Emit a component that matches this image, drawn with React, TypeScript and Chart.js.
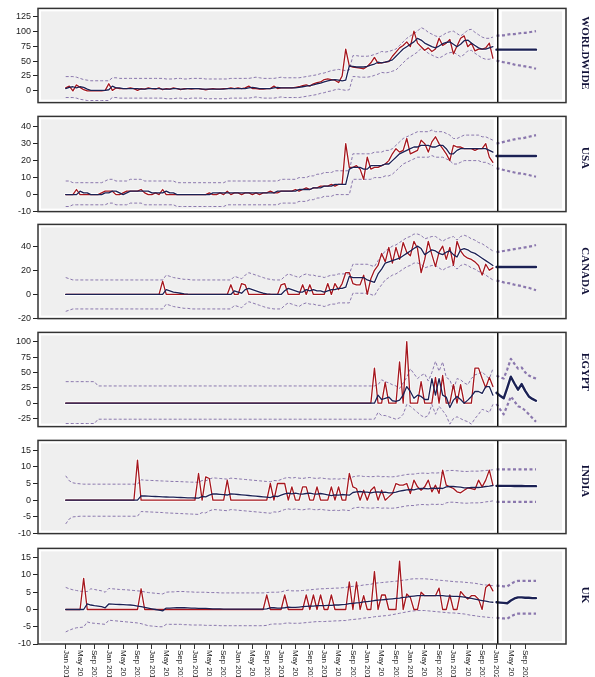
import React, { useEffect, useRef } from 'react';
import { Chart, registerables } from 'chart.js';

Chart.register(...registerables);

// ---------- axis / layout constants ----------
const X_MIN = -7.72;
const X_MAX = 139.36;
const SPLIT = 120.35;
const FC_START = 120;

const tickMonthNames = ['Jan', 'May', 'Sep'];
const tickMonthOffsets = [0, 4, 8];
const tickYears = [2010, 2011, 2012, 2013, 2014, 2015, 2016, 2017, 2018, 2019, 2020];

// ---------- WORLDWIDE ----------
const wwTicks = [0, 25, 50, 75, 100, 125];
const wwObs = [
  5, 8, 0, 10, 6, 2, 0, 0, 0, 0, 0, 1,
  12, 1, 5, 4, 4, 4, 5, 4, 1, 4, 3, 5,
  4, 3, 5, 2, 4, 3, 5, 4, 2, 4, 4, 3,
  4, 4, 3, 2, 3, 4, 3, 3, 4, 4, 5, 4,
  5, 4, 5, 8, 4, 4, 3, 3, 4, 4, 8, 4,
  5, 5, 5, 5, 6, 7, 9, 10, 8, 12, 14, 15,
  19, 20, 19, 18, 14, 25, 70, 42, 40, 39, 38, 37,
  41, 47, 56, 46, 47, 48, 49, 58, 65, 72, 76, 82,
  74, 100, 80, 74, 68, 72, 66, 70, 88, 76, 80, 86,
  62, 75, 88, 92, 74, 80, 67, 70, 70, 72, 80, 55,
];
const wwFit = [
  4, 6, 7, 5, 7, 6, 3, 1, 1, 1, 1, 1,
  2, 8, 5, 5, 4, 4, 4, 4, 4, 3, 3, 4,
  4, 4, 4, 3, 3, 3, 4, 4, 3, 3, 4, 4,
  4, 4, 3, 3, 3, 3, 3, 3, 3, 4, 4, 4,
  4, 4, 4, 5, 6, 5, 4, 4, 4, 4, 5, 6,
  5, 5, 5, 5, 5, 6, 7, 8, 9, 10, 12, 13,
  15, 17, 18, 19, 18, 17, 18, 42, 41, 40, 40, 40,
  41, 43, 45, 48, 47, 48, 50, 52, 58, 64, 70, 74,
  78, 82, 88, 85, 80, 77, 74, 72, 75, 79, 81, 82,
  78, 74, 78, 84, 85, 80, 76, 72, 70, 70, 72, 74,
];
const wwUp = [
  24, 24, 24, 23, 21, 19, 18, 17, 17, 17, 17, 17,
  17, 22, 22, 21, 21, 21, 21, 21, 21, 21, 21, 21,
  21, 21, 21, 21, 20, 20, 20, 21, 21, 20, 20, 21,
  21, 21, 21, 20, 20, 20, 20, 20, 20, 20, 21, 21,
  21, 21, 21, 21, 22, 23, 22, 21, 21, 21, 21, 22,
  23, 22, 22, 22, 22, 22, 23, 24, 25, 26, 27, 29,
  30, 32, 34, 35, 36, 35, 34, 35, 59, 59, 58, 58,
  58, 59, 61, 63, 66, 65, 66, 68, 70, 76, 82, 88,
  92, 96, 100, 106, 103, 98, 95, 92, 90, 93, 97, 99,
  100, 96, 92, 96, 102, 103, 98, 94, 90, 88, 88, 90,
];
const wwLo = [
  -11, -11, -11, -12, -14, -15, -16, -16, -16, -16, -16, -16,
  -16, -11, -11, -12, -12, -12, -12, -12, -12, -12, -12, -12,
  -12, -12, -12, -12, -13, -13, -13, -12, -12, -13, -13, -12,
  -12, -12, -12, -13, -13, -13, -13, -13, -13, -13, -12, -12,
  -12, -12, -12, -12, -11, -10, -11, -12, -12, -12, -12, -11,
  -10, -11, -11, -11, -11, -11, -10, -9, -8, -7, -6, -4,
  -3, -1, 0, 2, 3, 2, 1, 2, 24, 24, 23, 23,
  23, 24, 26, 28, 31, 30, 31, 33, 35, 41, 47, 53,
  57, 61, 65, 71, 68, 63, 60, 57, 55, 58, 62, 64,
  65, 61, 57, 61, 67, 68, 63, 59, 55, 53, 53, 55,
];
const wwFc = [69, 69, 69, 69, 69, 69, 69, 69, 69, 69, 69, 69];
const wwFcUp = [92, 93, 93, 94, 95, 95, 96, 97, 97, 98, 99, 100];
const wwFcLo = [51, 49, 48, 47, 46, 44, 43, 42, 41, 40, 39, 37];

// ---------- USA ----------
const usTicks = [-10, 0, 10, 20, 30, 40];
const usObs = [
  0, 0, 0, 3, 0, 0, 0, 0, 0, 0, 1, 2,
  2, 2, 0, 0, 1, 2, 2, 2, 2, 3, 1, 0,
  0, 1, 0, 3, 0, 0, 0, 0, 0, 0, 0, 0,
  0, 0, 0, 0, 1, 0, 0, 1, 0, 2, 0, 1,
  1, 0, 1, 1, 0, 1, 0, 1, 1, 2, 1, 1,
  2, 2, 2, 2, 3, 2, 3, 4, 3, 4, 4, 5,
  5, 5, 6, 5, 6, 6, 30, 16, 16, 17, 15, 9,
  22, 15, 16, 16, 17, 18, 20, 24, 27, 25, 26, 33,
  24, 25, 26, 32, 30, 25, 31, 34, 30, 27, 24, 20,
  29, 28, 28, 27, 27, 27, 26, 27, 27, 30, 22, 19,
];
const usFit = [
  0, 0, 0, 0, 2, 1, 1, 0, 0, 0, 0, 1,
  1, 2, 2, 1, 0, 1, 2, 2, 2, 2, 2, 2,
  1, 1, 1, 1, 2, 1, 1, 0, 0, 0, 0, 0,
  0, 0, 0, 0, 0, 1, 1, 1, 1, 1, 1, 1,
  1, 1, 1, 1, 1, 1, 1, 1, 1, 1, 1, 2,
  2, 2, 2, 2, 2, 3, 3, 3, 3, 4, 4, 4,
  5, 5, 5, 6, 6, 6, 6, 15, 16, 16, 16, 15,
  15, 17, 17, 17, 17, 18, 18, 20, 22, 24, 25, 26,
  27, 28, 28, 29, 29, 29, 28, 28, 29, 29, 27, 24,
  24, 26, 27, 27, 27, 27, 27, 27, 27, 27, 26, 25,
];
const usUp = [
  8, 8, 7, 7, 7, 7, 7, 7, 7, 7, 7, 8,
  9, 9, 8, 8, 8, 8, 9, 9, 9, 9, 8, 8,
  8, 8, 8, 8, 8, 8, 8, 7, 7, 7, 7, 7,
  7, 7, 7, 7, 7, 7, 7, 7, 7, 8, 8, 8,
  8, 8, 8, 8, 8, 8, 8, 8, 8, 8, 8, 8,
  9, 9, 9, 9, 9, 10, 10, 10, 11, 11, 12, 12,
  13, 13, 13, 14, 14, 14, 14, 14, 24, 24, 24, 24,
  24, 24, 25, 25, 25, 26, 26, 27, 29, 31, 33, 34,
  35, 36, 37, 37, 37, 37, 38, 37, 37, 37, 36, 35,
  33, 33, 34, 35, 35, 35, 35, 35, 34, 34, 33, 32,
];
const usLo = [
  -7, -7, -6, -6, -6, -6, -6, -6, -6, -6, -6, -6,
  -5, -5, -6, -6, -6, -6, -5, -5, -5, -5, -6, -6,
  -6, -6, -6, -6, -6, -6, -6, -7, -7, -7, -7, -7,
  -7, -7, -7, -7, -7, -7, -7, -7, -7, -6, -6, -6,
  -6, -6, -6, -6, -6, -6, -6, -6, -6, -6, -6, -6,
  -5, -5, -5, -5, -5, -4, -4, -4, -3, -3, -2, -2,
  -1, -1, -1, 0, 0, 0, 0, 0, 9, 9, 9, 9,
  9, 9, 10, 10, 10, 11, 11, 12, 14, 16, 18, 19,
  20, 21, 22, 22, 22, 22, 23, 22, 22, 22, 21, 20,
  18, 18, 19, 20, 20, 20, 20, 20, 19, 19, 18, 17,
];
const usFc = [22.7, 22.7, 22.7, 22.7, 22.7, 22.7, 22.7, 22.7, 22.7, 22.7, 22.7, 22.7];
const usFcUp = [30, 30.5, 31, 31.5, 32, 32.5, 33, 33, 33.5, 34, 34.5, 35];
const usFcLo = [15.5, 15, 14.5, 14, 13.5, 13, 12.5, 12.5, 12, 11.5, 11, 10.5];

// ---------- CANADA ----------
const caTicks = [-20, 0, 20, 40];
const caObs = [
  0, 0, 0, 0, 0, 0, 0, 0, 0, 0, 0, 0,
  0, 0, 0, 0, 0, 0, 0, 0, 0, 0, 0, 0,
  0, 0, 0, 11, 0, 0, 0, 0, 0, 0, 0, 0,
  0, 0, 0, 0, 0, 0, 0, 0, 0, 0, 8, 0,
  0, 9, 8, 0, 0, 0, 0, 0, 0, 0, 0, 0,
  8, 9, 0, 0, 0, 0, 8, 0, 8, 0, 0, 0,
  0, 9, 0, 9, 4, 9, 18, 18, 9, 8, 8, 16,
  0, 13, 20, 24, 34, 27, 39, 26, 39, 29, 43, 35,
  32, 44, 38, 18, 29, 44, 33, 23, 35, 40, 29, 39,
  24, 44, 36, 32, 30, 29, 27, 24, 16, 25, 20, 22,
];
const caFit = [
  0, 0, 0, 0, 0, 0, 0, 0, 0, 0, 0, 0,
  0, 0, 0, 0, 0, 0, 0, 0, 0, 0, 0, 0,
  0, 0, 0, 0, 4, 3, 2, 1.5, 1, 0.5, 0.2, 0,
  0, 0, 0, 0, 0, 0, 0, 0, 0, 0, 0, 3,
  2, 1, 4, 5, 4, 3, 2, 1, 0.5, 0.2, 0, 0,
  0, 3, 5, 4, 3, 2, 2, 4, 3, 4, 3, 3,
  2, 3, 4, 4, 5, 5, 6, 15, 14, 14, 14, 14,
  12, 11, 10, 17, 21, 26, 27, 28, 29, 30, 32, 34,
  36, 38, 40, 38, 33, 35, 37, 36, 34, 33, 35, 36,
  33, 31, 37, 38, 37, 35, 34, 32, 30, 28, 26, 24,
];
const caUp = [
  14, 13, 12, 12, 12, 12, 12, 12, 12, 12, 12, 12,
  12, 12, 12, 12, 12, 12, 12, 12, 12, 12, 12, 12,
  12, 12, 12, 12, 16, 15, 14, 13.5, 13, 12.5, 12.5, 12,
  12, 12, 12, 12, 12, 12, 12, 12, 12, 12, 12, 15,
  14, 13, 16, 18, 17, 16, 15, 14, 13, 12.5, 12, 12,
  12, 15, 17, 16, 15, 14, 16, 17, 16, 16, 15, 15,
  14, 15, 16, 16, 17, 17, 17, 17, 25, 25, 25, 25,
  25, 24, 23, 28, 32, 36, 38, 40, 41, 43, 45, 47,
  48, 50, 50, 49, 46, 47, 48, 48, 46, 44, 46, 47,
  48, 45, 48, 49, 48, 46, 45, 43, 42, 40, 38, 36,
];
const caLo = [
  -14, -13, -12, -12, -12, -12, -12, -12, -12, -12, -12, -12,
  -12, -12, -12, -12, -12, -12, -12, -12, -12, -12, -12, -12,
  -12, -12, -12, -12, -8, -9, -10, -10.5, -11, -11.5, -11.5, -12,
  -12, -12, -12, -12, -12, -12, -12, -12, -12, -12, -12, -9,
  -10, -11, -8, -6, -7, -8, -9, -10, -11, -11.5, -12, -12,
  -12, -9, -7, -8, -9, -10, -8, -7, -8, -8, -9, -9,
  -10, -9, -8, -8, -7, -7, -7, -7, 1, 1, 1, 1,
  1, 0, -1, 4, 8, 12, 14, 16, 17, 19, 21, 23,
  24, 26, 26, 25, 22, 23, 24, 24, 22, 20, 22, 23,
  24, 21, 24, 25, 24, 22, 21, 19, 18, 16, 14, 12,
];
const caFc = [22.7, 22.7, 22.7, 22.7, 22.7, 22.7, 22.7, 22.7, 22.7, 22.7, 22.7, 22.7];
const caFcUp = [35, 35.5, 36, 36.5, 37, 37.5, 38, 38.5, 39, 39.5, 40, 41];
const caFcLo = [11.5, 11, 10, 9.5, 9, 8, 7.5, 7, 6, 5.5, 4.5, 3.5];

// ---------- EGYPT ----------
const egTicks = [-25, 0, 25, 50, 75, 100];
const egObs = [
  0, 0, 0, 0, 0, 0, 0, 0, 0, 0, 0, 0,
  0, 0, 0, 0, 0, 0, 0, 0, 0, 0, 0, 0,
  0, 0, 0, 0, 0, 0, 0, 0, 0, 0, 0, 0,
  0, 0, 0, 0, 0, 0, 0, 0, 0, 0, 0, 0,
  0, 0, 0, 0, 0, 0, 0, 0, 0, 0, 0, 0,
  0, 0, 0, 0, 0, 0, 0, 0, 0, 0, 0, 0,
  0, 0, 0, 0, 0, 0, 0, 0, 0, 0, 0, 0,
  0, 0, 57, 0, 0, 34, 0, 0, 0, 67, 0, 100,
  0, 0, 0, 35, 0, 0, 0, 42, 0, 45, 0, 0,
  30, 0, 30, 0, 0, 0, 57, 57, 40, 25, 42, 27,
];
const egFit = [
  0, 0, 0, 0, 0, 0, 0, 0, 0, 0, 0, 0,
  0, 0, 0, 0, 0, 0, 0, 0, 0, 0, 0, 0,
  0, 0, 0, 0, 0, 0, 0, 0, 0, 0, 0, 0,
  0, 0, 0, 0, 0, 0, 0, 0, 0, 0, 0, 0,
  0, 0, 0, 0, 0, 0, 0, 0, 0, 0, 0, 0,
  0, 0, 0, 0, 0, 0, 0, 0, 0, 0, 0, 0,
  0, 0, 0, 0, 0, 0, 0, 0, 0, 0, 0, 0,
  0, 0, 0, 13, 6, 8, 10, 4, 3, 5, 13, 27,
  19, 8, 13, 11, 6, 6, 40, 13, 40, 13, 10, -7,
  5, 11, 6, 0, 5, 11, 19, 19, 16, 27, 27, 13,
];
const egUp = [
  35, 35, 35, 35, 35, 35, 35, 35, 35, 28, 28, 28,
  28, 28, 28, 28, 28, 28, 28, 28, 28, 28, 28, 28,
  28, 28, 28, 28, 28, 28, 28, 28, 28, 28, 28, 28,
  28, 28, 28, 28, 28, 28, 28, 28, 28, 28, 28, 28,
  28, 28, 28, 28, 28, 28, 28, 28, 28, 28, 28, 28,
  28, 28, 28, 28, 28, 28, 28, 28, 28, 28, 28, 28,
  28, 28, 28, 28, 28, 28, 28, 28, 28, 28, 28, 28,
  28, 28, 28, 30, 38, 35, 33, 30, 28, 24, 33, 42,
  56, 48, 40, 45, 48, 36, 50, 68, 52, 67, 42, 38,
  22, 40, 38, 33, 30, 40, 46, 48, 51, 45, 40, 56,
];
const egLo = [
  -33, -33, -33, -33, -33, -33, -33, -33, -33, -26, -26, -26,
  -26, -26, -26, -26, -26, -26, -26, -26, -26, -26, -26, -26,
  -26, -26, -26, -26, -26, -26, -26, -26, -26, -26, -26, -26,
  -26, -26, -26, -26, -26, -26, -26, -26, -26, -26, -26, -26,
  -26, -26, -26, -26, -26, -26, -26, -26, -26, -26, -26, -26,
  -26, -26, -26, -26, -26, -26, -26, -26, -26, -26, -26, -26,
  -26, -26, -26, -26, -26, -26, -26, -26, -26, -26, -26, -26,
  -26, -26, -26, -15, -20, -20, -22, -24, -26, -24, -18, -2,
  -5, -10, -15, -20, -23, -20, -2, -18, -5, -12, -20, -34,
  -25, -22, -25, -28, -30, -34, -25, -18, -10, -12, -15, -2,
];
const egFc = [17, 12, 8, 25, 43, 32, 22, 31, 20, 11, 7, 4];
const egFcUp = [45, 42, 40, 55, 72, 64, 56, 58, 50, 45, 42, 40];
const egFcLo = [-1, -10, -18, -4, 11, 3, -5, -7, -12, -18, -24, -30];

// ---------- INDIA ----------
const inTicks = [-10, -5, 0, 5, 10, 15];
const inObs = [
  0, 0, 0, 0, 0, 0, 0, 0, 0, 0, 0, 0,
  0, 0, 0, 0, 0, 0, 0, 0, 12, 0, 0, 0,
  0, 0, 0, 0, 0, 0, 0, 0, 0, 0, 0, 0,
  0, 8, 0, 7, 6.5, 0, 0, 0, 0, 6, 0, 0,
  0, 0, 0, 0, 0, 0, 0, 0, 0, 5, 0, 5,
  5, 5, 0, 4, 0, 0, 4, 4, 0, 0, 4, 0,
  0, 0, 4, 0, 4, 0, 0, 8, 4, 3.5, 0, 3,
  0, 3, 4, 0, 3, 0, 1, 2, 5, 4.5, 4.5, 5,
  2, 6, 4, 3, 4, 6, 2.5, 4.5, 2, 9, 4.5, 4,
  3.5, 2.5, 2.2, 3, 3.7, 3.5, 3.2, 6, 4, 6, 9, 4.5,
];
const inFit = [
  0, 0, 0, 0, 0, 0, 0, 0, 0, 0, 0, 0,
  0, 0, 0, 0, 0, 0, 0, 0, 0, 1.3, 1.25, 1.2,
  1.15, 1.1, 1.05, 1.0, 0.95, 0.9, 0.9, 0.85, 0.8, 0.75, 0.7, 0.7,
  0.65, 0.6, 1.1, 1.0, 1.5, 1.9, 1.85, 1.75, 1.65, 1.55, 1.9, 1.8,
  1.7, 1.6, 1.5, 1.4, 1.3, 1.2, 1.1, 1.0, 0.9, 0.8, 1.2, 1.1,
  1.5, 1.9, 2.1, 1.9, 2.1, 1.9, 1.8, 2.0, 2.1, 1.9, 1.8, 2.0,
  1.8, 1.6, 1.4, 1.6, 1.5, 1.7, 1.6, 1.5, 2.3, 2.5, 2.6, 2.4,
  2.4, 2.2, 2.4, 2.5, 2.3, 2.4, 2.2, 2.2, 2.4, 2.7, 2.9, 3.1,
  3.2, 3.1, 3.4, 3.5, 3.5, 3.4, 3.6, 3.5, 3.6, 3.5, 4.0, 4.1,
  4.1, 4.0, 3.9, 3.7, 3.7, 3.8, 3.8, 3.8, 3.9, 4.1, 4.2, 4.4,
];
const inUp = [
  7.3, 5.8, 5.2, 5.0, 4.9, 4.8, 4.8, 4.8, 4.8, 4.8, 4.8, 4.8,
  4.8, 4.8, 4.8, 4.8, 4.8, 4.8, 4.8, 4.8, 4.8, 6.1, 6.0, 5.95,
  5.9, 5.85, 5.8, 5.75, 5.7, 5.65, 5.6, 5.6, 5.55, 5.5, 5.45, 5.4,
  5.4, 5.35, 5.9, 5.8, 6.3, 6.7, 6.6, 6.5, 6.4, 6.3, 6.6, 6.5,
  6.4, 6.3, 6.2, 6.1, 6.0, 5.9, 5.8, 5.7, 5.6, 5.5, 5.9, 5.8,
  6.2, 6.6, 6.8, 6.6, 6.8, 6.6, 6.5, 6.7, 6.8, 6.6, 6.5, 6.7,
  6.5, 6.4, 6.3, 6.4, 6.3, 6.5, 6.4, 6.3, 7.0, 7.2, 7.3, 7.1,
  7.1, 7.0, 7.1, 7.2, 7.0, 7.1, 7.0, 7.0, 7.1, 7.3, 7.5, 7.7,
  7.8, 7.8, 8.0, 8.1, 8.1, 8.0, 8.2, 8.1, 8.2, 8.2, 8.8, 8.9,
  8.9, 8.8, 8.7, 8.6, 8.6, 8.7, 8.7, 8.7, 8.8, 8.9, 9.0, 9.1,
];
const inLo = [
  -7.1, -5.6, -5.0, -4.9, -4.8, -4.8, -4.8, -4.8, -4.8, -4.8, -4.8, -4.8,
  -4.8, -4.8, -4.8, -4.8, -4.8, -4.8, -4.8, -4.8, -4.8, -3.4, -3.45, -3.5,
  -3.55, -3.6, -3.65, -3.7, -3.8, -3.85, -3.9, -3.95, -4.0, -4.05, -4.1, -4.15,
  -4.2, -4.25, -3.7, -3.8, -3.2, -2.8, -2.85, -2.95, -3.05, -3.15, -2.8, -2.9,
  -3.0, -3.1, -3.2, -3.3, -3.4, -3.5, -3.6, -3.7, -3.8, -3.9, -3.5, -3.6,
  -3.2, -2.8, -2.6, -2.8, -2.6, -2.8, -2.9, -2.7, -2.6, -2.8, -2.9, -2.7,
  -2.9, -3.0, -3.1, -3.0, -3.1, -2.9, -3.0, -3.1, -2.4, -2.2, -2.1, -2.3,
  -2.3, -2.4, -2.3, -2.2, -2.4, -2.3, -2.4, -2.4, -2.3, -2.1, -1.9, -1.7,
  -1.6, -1.6, -1.4, -1.3, -1.3, -1.4, -1.2, -1.3, -1.2, -1.3, -0.8, -0.6,
  -0.6, -0.7, -0.8, -0.9, -0.9, -0.8, -0.8, -0.8, -0.7, -0.5, -0.4, -0.2,
];
const inFc = [4.3, 4.3, 4.3, 4.3, 4.3, 4.25, 4.25, 4.25, 4.2, 4.2, 4.2, 4.2];
const inFcUp = [9.2, 9.2, 9.2, 9.2, 9.2, 9.2, 9.2, 9.2, 9.2, 9.2, 9.2, 9.2];
const inFcLo = [-0.5, -0.5, -0.5, -0.5, -0.5, -0.5, -0.5, -0.5, -0.5, -0.5, -0.5, -0.5];

// ---------- UK ----------
const ukTicks = [-10, -5, 0, 5, 10, 15];
const ukObs = [
  0, 0, 0, 0, 0, 9, 0, 0, 0, 0, 0, 0,
  0, 0, 0, 0, 0, 0, 0, 0, 0, 6, 0, 0,
  0, 0, 0, 0, 0, 0, 0, 0, 0, 0, 0, 0,
  0, 0, 0, 0, 0, 0, 0, 0, 0, 0, 0, 0,
  0, 0, 0, 0, 0, 0, 0, 0, 4.2, 0, 0, 0,
  0, 4.2, 0, 0, 0, 0, 0, 4.2, 0, 4.2, 0, 4.2,
  0, 0, 4.2, 0, 0, 0, 0, 8, 0, 8, 0, 4,
  0, 0, 11, 0, 4.2, 4.2, 0, 0, 0, 14, 0, 4.5,
  3.5, 0, 0, 5, 4, 4, 4, 4, 6.2, 0, 0, 4.2,
  0, 0, 5.2, 4, 3, 4, 4, 3, 0, 6.4, 7.3, 5.4,
];
const ukFit = [
  0, 0, 0, 0, 0, 0, 1.6, 1.3, 1.1, 1.0, 0.8, 0.5,
  1.6, 1.55, 1.5, 1.45, 1.4, 1.35, 1.3, 1.2, 1.0, 0.8, 0.6, 0.4,
  0.2, 0.0, -0.2, -0.4, 0.4, 0.4, 0.45, 0.5, 0.5, 0.5, 0.45, 0.4,
  0.4, 0.35, 0.3, 0.3, 0.25, 0.2, 0.2, 0.15, 0.1, 0.1, 0.1, 0.1,
  0.1, 0.1, 0.1, 0.1, 0.1, 0.1, 0.1, 0.1, 0.2, 0.5, 0.5, 0.4,
  0.4, 0.5, 0.7, 0.6, 0.6, 0.7, 0.8, 0.9, 1.0, 1.0, 1.1, 1.1,
  1.1, 1.2, 1.2, 1.3, 1.3, 1.4, 1.5, 1.7, 1.8, 1.9, 2.0, 2.2,
  2.3, 2.4, 2.6, 2.7, 2.8, 2.9, 3.0, 3.1, 3.2, 3.3, 3.5, 3.6,
  3.8, 3.9, 4.0, 4.0, 4.0, 4.0, 4.0, 4.0, 4.0, 4.0, 3.9, 3.9,
  3.8, 3.8, 3.7, 3.6, 3.4, 3.2, 3.0, 2.8, 2.6, 2.4, 2.2, 2.1,
];
const ukUp = [
  6.4, 6.0, 5.7, 5.5, 5.3, 5.2, 5.2, 6.0, 5.8, 5.6, 5.4, 5.0,
  6.1, 6.0, 5.9, 5.8, 5.75, 5.7, 5.6, 5.5, 5.4, 5.3, 5.1, 4.9,
  4.8, 4.7, 4.6, 4.5, 5.0, 5.1, 5.1, 5.2, 5.2, 5.2, 5.1, 5.1,
  5.0, 5.0, 5.0, 5.0, 4.9, 4.9, 4.9, 4.8, 4.8, 4.8, 4.8, 4.8,
  4.8, 4.8, 4.8, 4.8, 4.8, 4.8, 4.8, 4.8, 4.9, 5.0, 5.0, 5.0,
  5.1, 5.4, 5.6, 5.4, 5.4, 5.4, 5.5, 5.6, 5.7, 5.8, 5.9, 6.0,
  6.0, 6.1, 6.1, 6.2, 6.2, 6.3, 6.4, 6.6, 6.7, 6.8, 6.9, 7.1,
  7.2, 7.3, 7.6, 7.7, 7.8, 7.9, 8.0, 8.1, 8.2, 8.3, 8.5, 8.6,
  8.8, 8.9, 8.9, 8.9, 8.9, 8.8, 8.7, 8.6, 8.5, 8.4, 8.3, 8.2,
  8.1, 8.0, 8.0, 7.9, 7.8, 7.7, 7.6, 7.4, 7.2, 7.1, 7.0, 6.9,
];
const ukLo = [
  -6.5, -6.0, -5.6, -5.3, -5.2, -5.1, -3.6, -3.9, -4.0, -4.1, -4.2, -4.3,
  -3.1, -3.2, -3.3, -3.4, -3.5, -3.6, -3.7, -3.8, -3.9, -4.1, -4.4, -4.7,
  -4.8, -4.9, -5.0, -5.0, -4.3, -4.3, -4.3, -4.3, -4.3, -4.4, -4.4, -4.5,
  -4.5, -4.5, -4.5, -4.6, -4.6, -4.6, -4.6, -4.7, -4.7, -4.7, -4.7, -4.7,
  -4.7, -4.7, -4.7, -4.7, -4.7, -4.7, -4.7, -4.7, -4.6, -4.3, -4.2, -4.2,
  -4.2, -4.0, -3.9, -4.0, -4.0, -4.0, -3.9, -3.8, -3.7, -3.6, -3.5, -3.5,
  -3.5, -3.4, -3.4, -3.3, -3.3, -3.2, -3.2, -3.0, -2.9, -2.8, -2.7, -2.5,
  -2.4, -2.3, -2.1, -2.0, -1.9, -1.8, -1.7, -1.5, -1.3, -1.1, -0.9, -0.7,
  -0.5, -0.4, -0.3, -0.3, -0.3, -0.4, -0.5, -0.6, -0.7, -0.8, -0.9, -1.0,
  -1.0, -1.1, -1.2, -1.3, -1.5, -1.7, -1.8, -2.0, -2.1, -2.2, -2.3, -2.4,
];
const ukFc = [2.1, 2.0, 1.9, 1.8, 2.6, 3.2, 3.5, 3.5, 3.4, 3.4, 3.3, 3.3];
const ukFcUp = [6.9, 6.8, 6.7, 6.7, 7.4, 8.0, 8.3, 8.3, 8.3, 8.3, 8.3, 8.3];
const ukFcLo = [-2.4, -2.5, -2.6, -2.7, -2.0, -1.5, -1.2, -1.2, -1.2, -1.2, -1.2, -1.2];

// ---------- panel definitions (layout in px) ----------
const panels = [
  { name: 'WORLDWIDE', top: 7, bottom: 104, labelY: 53, yMin: -19.5, yMax: 138, ticks: wwTicks, obs: wwObs, fit: wwFit, up: wwUp, lo: wwLo, fc: wwFc, fcUp: wwFcUp, fcLo: wwFcLo },
  { name: 'USA', top: 115, bottom: 213, labelY: 158, yMin: -10, yMax: 46, ticks: usTicks, obs: usObs, fit: usFit, up: usUp, lo: usLo, fc: usFc, fcUp: usFcUp, fcLo: usFcLo },
  { name: 'CANADA', top: 223, bottom: 320, labelY: 271, yMin: -20, yMax: 58, ticks: caTicks, obs: caObs, fit: caFit, up: caUp, lo: caLo, fc: caFc, fcUp: caFcUp, fcLo: caFcLo },
  { name: 'EGYPT', top: 331, bottom: 428, labelY: 372, yMin: -38, yMax: 115, ticks: egTicks, obs: egObs, fit: egFit, up: egUp, lo: egLo, fc: egFc, fcUp: egFcUp, fcLo: egFcLo },
  { name: 'INDIA', top: 439, bottom: 535, labelY: 481, yMin: -10, yMax: 17.9, ticks: inTicks, obs: inObs, fit: inFit, up: inUp, lo: inLo, fc: inFc, fcUp: inFcUp, fcLo: inFcLo },
  { name: 'UK', top: 547, bottom: 644, labelY: 595, yMin: -10, yMax: 17.7, ticks: ukTicks, obs: ukObs, fit: ukFit, up: ukUp, lo: ukLo, fc: ukFc, fcUp: ukFcUp, fcLo: ukFcLo },
];

const xTickValues: number[] = [];
const xTickLabels: string[] = [];
tickYears.forEach((yr, yi) => {
  tickMonthNames.forEach((mn, mi) => {
    xTickValues.push(yi * 12 + tickMonthOffsets[mi]);
    xTickLabels.push(mn + ' ' + yr);
  });
});

const RED = '#a5161d';
const NAVY = '#1b2154';
const PURPLE = '#8a77ad';
const HALO = 'rgba(255,255,255,0.8)';

const pts = (arr: number[], start: number) => arr.map((v, i) => ({ x: start + i, y: v }));

const PAD = 6;
const W = 595;
const PAGE_H = 677;

function PanelChart({ p, last }: { p: any; last: boolean }) {
  const ref = useRef<HTMLCanvasElement | null>(null);
  const canvasTop = p.top - PAD;
  const h = last ? PAGE_H - canvasTop : p.bottom - p.top + 2 * PAD;

  useEffect(() => {
    if (!ref.current) return;
    const deco = {
      id: 'deco' + p.name,
      beforeDraw(c: any) {
        const { ctx, chartArea: a, scales } = c;
        const xs = scales.x.getPixelForValue(SPLIT);
        ctx.save();
        ctx.fillStyle = '#ffffff';
        ctx.fillRect(a.left, a.top, a.right - a.left, a.bottom - a.top);
        ctx.fillStyle = '#efefef';
        ctx.fillRect(a.left + 3, a.top + 3, xs - 4 - (a.left + 3), a.bottom - a.top - 6);
        ctx.fillRect(xs + 4, a.top + 3, a.right - 4 - (xs + 4), a.bottom - a.top - 6);
        ctx.restore();
      },
      afterDraw(c: any) {
        const { ctx, chartArea: a, scales } = c;
        const xs = scales.x.getPixelForValue(SPLIT);
        ctx.save();
        ctx.strokeStyle = '#111111';
        ctx.lineWidth = 1.5;
        ctx.beginPath();
        ctx.moveTo(xs, a.top);
        ctx.lineTo(xs, a.bottom);
        ctx.stroke();
        ctx.strokeStyle = '#333333';
        ctx.lineWidth = 1.5;
        ctx.strokeRect(a.left, a.top, a.right - a.left, a.bottom - a.top);
        ctx.translate(585, p.labelY - canvasTop);
        ctx.rotate(Math.PI / 2);
        ctx.fillStyle = '#13133a';
        ctx.font = 'bold 11px "Liberation Serif", "Times New Roman", serif';
        ctx.textAlign = 'center';
        ctx.textBaseline = 'middle';
        ctx.fillText(p.name, 0, 0);
        ctx.restore();
        if (last) {
          ctx.save();
          ctx.fillStyle = '#222222';
          ctx.font = '8px "Liberation Sans", Arial, sans-serif';
          ctx.textAlign = 'left';
          ctx.textBaseline = 'middle';
          scales.x.ticks.forEach((t: any, i: number) => {
            const x = scales.x.getPixelForValue(t.value);
            ctx.save();
            ctx.translate(x, a.bottom + 6);
            ctx.rotate(Math.PI / 2);
            ctx.fillText(xTickLabels[i], 0, 0);
            ctx.restore();
          });
          ctx.restore();
        }
      },
    };

    const line = (data: any, color: string, width: number, order: number, dash: number[] = []) => ({
      data,
      borderColor: color,
      borderWidth: width,
      borderDash: dash,
      borderJoinStyle: 'round',
      borderCapStyle: 'round',
      pointRadius: 0,
      fill: false,
      tension: 0,
      order,
    });

    const xAxis: any = {
      type: 'linear',
      min: X_MIN,
      max: X_MAX,
      display: last,
      border: { display: false },
      grid: { drawOnChartArea: false, drawTicks: true, tickLength: 5, color: '#333333' },
      ticks: { display: false, autoSkip: false },
      afterBuildTicks: (s: any) => {
        s.ticks = xTickValues.map((v) => ({ value: v }));
      },
    };
    if (last) {
      xAxis.afterFit = (s: any) => {
        s.height = 33;
      };
    }

    const chart = new Chart(ref.current, {
      type: 'line',
      data: {
        datasets: [
          line(pts(p.fit, 0), NAVY, 1.3, 0),
          line(pts(p.fc, FC_START), NAVY, 2.4, 0),
          line(pts(p.obs, 0), RED, 1.3, 1),
          { ...line(pts(p.up, 0), PURPLE, 1, 2, [3, 2]), borderCapStyle: 'butt' },
          { ...line(pts(p.lo, 0), PURPLE, 1, 2, [3, 2]), borderCapStyle: 'butt' },
          { ...line(pts(p.fcUp, FC_START), PURPLE, 2.2, 2, [3, 2.5]), borderCapStyle: 'butt' },
          { ...line(pts(p.fcLo, FC_START), PURPLE, 2.2, 2, [3, 2.5]), borderCapStyle: 'butt' },
          line(pts(p.obs, 0), HALO, 3.2, 3),
          line(pts(p.fit, 0), HALO, 3.2, 3),
          line(pts(p.fc, FC_START), HALO, 4.2, 3),
        ],
      },
      options: {
        animation: false,
        responsive: false,
        maintainAspectRatio: false,
        devicePixelRatio: 1,
        events: [],
        layout: { padding: { left: 0, right: W - 566, top: PAD, bottom: last ? 0 : PAD } },
        plugins: { legend: { display: false }, tooltip: { enabled: false } },
        elements: { point: { radius: 0 } },
        scales: {
          x: xAxis,
          y: {
            type: 'linear',
            min: p.yMin,
            max: p.yMax,
            border: { display: false },
            grid: { drawOnChartArea: false, drawTicks: true, tickLength: 5, color: '#222222' },
            ticks: {
              color: '#222222',
              padding: 2,
              autoSkip: false,
              font: { size: 9, family: '"Liberation Sans", Arial, sans-serif' },
            },
            afterBuildTicks: (s: any) => {
              s.ticks = p.ticks.map((v: number) => ({ value: v }));
            },
            afterFit: (s: any) => {
              s.width = 38;
            },
          },
        },
      },
      plugins: [deco],
    } as any);
    return () => chart.destroy();
  }, []);

  return (
    <canvas
      ref={ref}
      width={W}
      height={h}
      style={{ position: 'absolute', left: 0, top: canvasTop, width: W, height: h, display: 'block' }}
    />
  );
}

export default function App() {
  return (
    <div style={{ position: 'absolute', left: 0, top: 0, width: W, height: PAGE_H, overflow: 'hidden', background: '#ffffff' }}>
      {panels.map((p, i) => (
        <PanelChart key={p.name} p={p} last={i === panels.length - 1} />
      ))}
    </div>
  );
}
